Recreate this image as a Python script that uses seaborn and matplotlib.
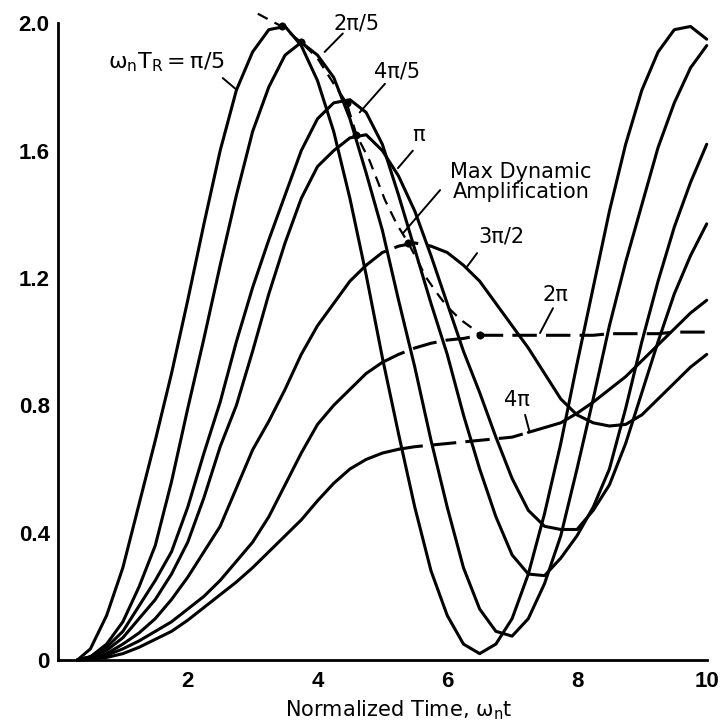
import matplotlib
matplotlib.use('Agg')  # no display
import matplotlib.pyplot as plt
import pandas as pd
import seaborn as sns

# normalized time, omega_n * t
time = [0.3, 0.5, 0.75, 1.0, 1.25, 1.5, 1.75, 2.0, 2.25, 2.5,
        2.75, 3.0, 3.25, 3.5, 3.75, 4.0, 4.25, 4.5, 4.75, 5.0,
        5.25, 5.5, 5.75, 6.0, 6.25, 6.5, 6.75, 7.0, 7.25, 7.5,
        7.75, 8.0, 8.25, 8.5, 8.75, 9.0, 9.25, 9.5, 9.75, 10.0]

# response for each rise time omega_n * T_R
resp_pi_5 = [0, 0.035, 0.14, 0.29, 0.49, 0.69, 0.90, 1.13, 1.37, 1.60,
             1.79, 1.91, 1.98, 1.99, 1.93, 1.82, 1.66, 1.45, 1.21, 0.95,
             0.71, 0.48, 0.28, 0.14, 0.05, 0.02, 0.05, 0.13, 0.27, 0.46,
             0.68, 0.93, 1.17, 1.41, 1.62, 1.79, 1.91, 1.98, 1.99, 1.95]
resp_2pi_5 = [0, 0.01, 0.05, 0.12, 0.23, 0.36, 0.56, 0.79, 1.01, 1.24,
              1.46, 1.66, 1.80, 1.90, 1.94, 1.90, 1.83, 1.70, 1.53, 1.35,
              1.13, 0.92, 0.69, 0.48, 0.29, 0.16, 0.09, 0.075, 0.13, 0.24,
              0.39, 0.60, 0.82, 1.05, 1.25, 1.43, 1.61, 1.75, 1.86, 1.93]
resp_4pi_5 = [0, 0.01, 0.04, 0.09, 0.17, 0.25, 0.34, 0.48, 0.65, 0.81,
              1.00, 1.17, 1.32, 1.46, 1.60, 1.70, 1.75, 1.76, 1.72, 1.62,
              1.46, 1.29, 1.12, 0.96, 0.77, 0.60, 0.45, 0.33, 0.27, 0.265,
              0.32, 0.39, 0.48, 0.60, 0.79, 1.00, 1.19, 1.36, 1.50, 1.62]
resp_pi = [0, 0.01, 0.03, 0.07, 0.13, 0.19, 0.27, 0.37, 0.51, 0.67,
           0.80, 0.97, 1.15, 1.31, 1.45, 1.55, 1.60, 1.64, 1.65, 1.60,
           1.52, 1.41, 1.27, 1.12, 0.97, 0.84, 0.70, 0.57, 0.47, 0.42,
           0.41, 0.41, 0.47, 0.55, 0.68, 0.84, 1.00, 1.15, 1.27, 1.37]
resp_3pi_2 = [0, 0.005, 0.02, 0.05, 0.085, 0.13, 0.19, 0.26, 0.34, 0.42,
              0.54, 0.66, 0.75, 0.85, 0.96, 1.05, 1.12, 1.19, 1.24, 1.28,
              1.30, 1.31, 1.30, 1.28, 1.24, 1.19, 1.12, 1.05, 0.98, 0.90,
              0.82, 0.77, 0.745, 0.735, 0.74, 0.77, 0.82, 0.87, 0.92, 0.96]
resp_2pi = [0, 0.003, 0.015, 0.035, 0.06, 0.09, 0.12, 0.16, 0.20, 0.25,
            0.31, 0.37, 0.45, 0.55, 0.65, 0.74, 0.80, 0.85, 0.90, 0.935,
            0.96, 0.98, 0.995, 1.005, 1.01, 1.02, 1.02, 1.02, 1.02, 1.02,
            1.02, 1.02, 1.02, 1.025, 1.025, 1.025, 1.025, 1.03, 1.03, 1.03]
resp_4pi = [0, 0.002, 0.008, 0.02, 0.04, 0.065, 0.09, 0.125, 0.165, 0.205,
            0.245, 0.29, 0.34, 0.39, 0.44, 0.50, 0.555, 0.60, 0.63, 0.65,
            0.662, 0.67, 0.675, 0.68, 0.685, 0.69, 0.695, 0.70, 0.715, 0.73,
            0.745, 0.775, 0.81, 0.85, 0.89, 0.94, 0.99, 1.04, 1.09, 1.13]

curve_names = ['π/5', '2π/5', '4π/5', 'π', '3π/2', '2π', '4π']
responses = [resp_pi_5, resp_2pi_5, resp_4pi_5, resp_pi, resp_3pi_2, resp_2pi, resp_4pi]

# max dynamic amplification locus and the peak points on it
mda_time = [3.08, 3.45, 3.75, 4.0, 4.25, 4.45, 4.6, 4.8, 5.04, 5.22,
            5.4, 5.68, 5.85, 6.0, 6.2, 6.4, 6.5]
mda_resp = [2.03, 1.99, 1.94, 1.89, 1.81, 1.75, 1.65, 1.57, 1.445, 1.37,
            1.31, 1.20, 1.15, 1.11, 1.07, 1.04, 1.02]
peak_time = [3.45, 3.75, 4.45, 4.6, 5.4, 6.5]
peak_resp = [1.99, 1.94, 1.75, 1.65, 1.31, 1.02]

# parts of some curves drawn dashed
dashed_parts = {'3π/2': [(4.75, 5.75)], '2π': [(5.0, 10.0)], '4π': [(5.25, 7.25)]}

rows = []
for name, resp in zip(curve_names, responses):
    parts = dashed_parts.get(name, [])
    cuts = sorted({time[0], time[-1], *[b for p in parts for b in p]})
    for k, (lo, hi) in enumerate(zip(cuts[:-1], cuts[1:])):
        kind = 'dashed' if (lo, hi) in parts else 'solid'
        for t, v in zip(time, resp):
            if lo <= t <= hi:
                rows.append((name, name + ':' + str(k), kind, t, v))
df = pd.DataFrame(rows, columns=['curve', 'seg', 'kind', 't', 'resp'])

sns.set_theme(style='white', rc={'text.color': 'black', 'axes.labelcolor': 'black',
                                 'xtick.color': 'black', 'ytick.color': 'black',
                                 'axes.edgecolor': 'black'})
plt.rcParams['font.family'] = ['DejaVu Sans']
plt.rcParams['mathtext.default'] = 'regular'

fig = plt.figure(figsize=(7.23, 7.21), dpi=100)
ax = fig.add_axes([0.0802, 0.0846, 0.8973, 0.8831])

sns.lineplot(data=df, x='t', y='resp', units='seg', estimator=None, style='kind',
             dashes={'solid': '', 'dashed': (8, 3)}, color='black', linewidth=2.2,
             legend=False, ax=ax, clip_on=False)
sns.lineplot(x=mda_time, y=mda_resp, color='black', linewidth=1.6,
             linestyle=(0, (5, 3.5)), ax=ax, clip_on=False)
sns.scatterplot(x=peak_time, y=peak_resp, color='black', s=28, edgecolor='black',
                zorder=5, legend=False, ax=ax, clip_on=False)

ax.set_xlim(0, 10)
ax.set_ylim(0, 2.0)
ax.set_xticks(range(2, 11))
ax.set_xticklabels(['2', '', '4', '', '6', '', '8', '', '10'],
                   fontfamily='Liberation Sans', fontweight='bold', fontsize=16)
yt = [0, 0.2, 0.4, 0.6, 0.8, 1.0, 1.2, 1.4, 1.6, 1.8, 2.0]
ax.set_yticks(yt)
ax.set_yticklabels(['0', '', '0.4', '', '0.8', '', '1.2', '', '1.6', '', '2.0'],
                   fontfamily='Liberation Sans', fontweight='bold', fontsize=16)
ax.tick_params(axis='both', direction='in', length=14, width=2)
ax.tick_params(axis='x', pad=8)
ax.tick_params(axis='y', pad=6)
sns.despine(ax=ax)
for side in ['left', 'bottom']:
    ax.spines[side].set_linewidth(2)
ax.set_xlabel(r'Normalized Time, $\omega_n$t', fontsize=15)
ax.xaxis.set_label_coords(0.525, -0.06)
ax.set_ylabel('')

# curve labels with leader lines
notes = [
    (r'$\omega_n T_R = \pi/5$', (1.68, 1.878), (2.54, 1.828), (2.76, 1.79)),
    ('2π/5', (4.61, 2.0), (4.39, 1.968), (4.11, 1.91)),
    ('4π/5', (5.22, 1.85), (5.04, 1.81), (4.65, 1.72)),
    ('π', (5.56, 1.65), (5.47, 1.60), (5.24, 1.545)),
    ('Max Dynamic\nAmplification', (7.14, 1.50), (5.89, 1.476), (5.32, 1.341)),
    ('3π/2', (6.84, 1.33), (6.46, 1.278), (6.30, 1.234)),
    ('2π', (7.67, 1.147), (7.63, 1.105), (7.43, 1.027)),
    ('4π', (7.07, 0.817), (7.2, 0.77), (7.27, 0.716)),
]
for text, pos, start, end in notes:
    size = 16 if text.startswith('$') else 15
    ax.text(pos[0], pos[1], text, ha='center', va='center', fontsize=size,
            linespacing=1.0)
    ax.annotate('', xy=end, xytext=start,
                arrowprops=dict(arrowstyle='-', lw=1.4, color='black',
                                shrinkA=0, shrinkB=0))

fig.savefig('out.png', dpi=100)
plt.close(fig)
